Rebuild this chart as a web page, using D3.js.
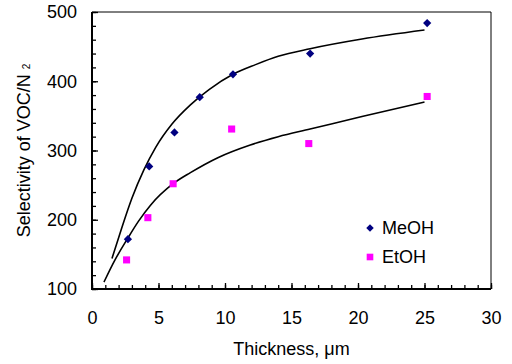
<!DOCTYPE html>
<html>
<head>
<meta charset="utf-8">
<script src="https://cdn.jsdelivr.net/npm/d3@7"></script>
<style>
    body { margin: 0; background: #fff; }
    svg text { font-family: "Liberation Sans", Arial, sans-serif; fill: #000; }
</style>
</head>
<body>
<div id="grafico"></div>
<script>
// measured points
const meohThickness = [2.7, 4.3, 6.2, 8.1, 10.6, 16.4, 25.2];
const meohSelectivity = [172, 277, 326, 377, 410, 440, 484];
const etohThickness = [2.6, 4.2, 6.1, 10.5, 16.3, 25.2];
const etohSelectivity = [142, 203, 252, 331, 310, 378];

// trend lines
const meohFitX = [1.5, 2.2, 3.0, 3.9, 4.8, 6.0, 7.4, 8.8, 10.6, 12.3, 14.0, 16.4, 20.3, 25.0];
const meohFitY = [144, 186, 231, 272, 305, 338, 366, 388, 410, 424, 436, 447, 461, 474];
const etohFitX = [0.9, 1.7, 2.65, 3.5, 4.4, 6.1, 7.4, 9.5, 11.9, 14.0, 16.4, 20.3, 25.0];
const etohFitY = [110, 141, 172, 198, 221, 252, 268, 290, 308, 320, 331, 349, 370];

const xTicks = [0, 5, 10, 15, 20, 25, 30];
const yTicks = [100, 200, 300, 400, 500];
const seriesNames = ["MeOH", "EtOH"];

const width = 512;
const height = 364;
const margin = { top: 12, right: 21, bottom: 75, left: 92 };

const x = d3.scaleLinear().domain([0, 30]).range([margin.left, width - margin.right]);
const y = d3.scaleLinear().domain([100, 500]).range([height - margin.bottom, margin.top]);

const svg = d3.select('#grafico')
    .append('svg')
    .attr('width', width)
    .attr('height', height);

// minor ticks
svg.append('g')
    .attr('transform', `translate(0, ${y(100)})`)
    .call(d3.axisBottom(x).tickValues(d3.range(0, 31, 1)).tickSize(-4).tickFormat(''))
    .call(g => g.select('.domain').remove());
svg.append('g')
    .attr('transform', `translate(${x(0)}, 0)`)
    .call(d3.axisLeft(y).tickValues(d3.range(100, 501, 20)).tickSize(-4).tickFormat(''))
    .call(g => g.select('.domain').remove());

// major ticks + labels
svg.append('g')
    .attr('transform', `translate(0, ${y(100)})`)
    .call(d3.axisBottom(x).tickValues(xTicks).tickSize(-6).tickPadding(22))
    .call(g => g.select('.domain').remove())
    .call(g => g.selectAll('text').attr('font-size', 18));
svg.append('g')
    .attr('transform', `translate(${x(0)}, 0)`)
    .call(d3.axisLeft(y).tickValues(yTicks).tickSize(-6).tickPadding(15))
    .call(g => g.select('.domain').remove())
    .call(g => g.selectAll('text').attr('font-size', 18));

svg.selectAll('.tick line').attr('stroke', '#000').attr('stroke-width', 1.3);

// frame
svg.append('path')
    .attr('d', `M${x(0)},${y(500)}H${x(30)}V${y(100)}`)
    .attr('fill', 'none')
    .attr('stroke', '#000')
    .attr('stroke-width', 1);
svg.append('path')
    .attr('d', `M${x(0)},${y(500)}V${y(100)}H${x(30)}`)
    .attr('fill', 'none')
    .attr('stroke', '#000')
    .attr('stroke-width', 2);

// trend lines
const line = d3.line()
    .x(d => x(d[0]))
    .y(d => y(d[1]))
    .curve(d3.curveMonotoneX);

svg.append('path')
    .datum(d3.zip(meohFitX, meohFitY))
    .attr('d', line)
    .attr('fill', 'none')
    .attr('stroke', '#000')
    .attr('stroke-width', 1.6);
svg.append('path')
    .datum(d3.zip(etohFitX, etohFitY))
    .attr('d', line)
    .attr('fill', 'none')
    .attr('stroke', '#000')
    .attr('stroke-width', 1.6);

// markers
const diamond = d3.symbol().type(d3.symbolSquare).size(34);
const square = d3.symbol().type(d3.symbolSquare).size(50);

svg.selectAll('.meoh')
    .data(d3.zip(meohThickness, meohSelectivity))
    .enter()
    .append('path')
    .attr('class', 'meoh')
    .attr('d', diamond)
    .attr('fill', '#000080')
    .attr('transform', d => `translate(${x(d[0])}, ${y(d[1])}) rotate(45)`);

svg.selectAll('.etoh')
    .data(d3.zip(etohThickness, etohSelectivity))
    .enter()
    .append('path')
    .attr('class', 'etoh')
    .attr('d', square)
    .attr('fill', '#ff00ff')
    .attr('transform', d => `translate(${x(d[0])}, ${y(d[1])})`);

// legend
const legend = svg.append('g').attr('transform', 'translate(370, 228)');
legend.append('path')
    .attr('d', d3.symbol().type(d3.symbolSquare).size(28))
    .attr('fill', '#000080')
    .attr('transform', 'translate(0, 0) rotate(45)');
legend.append('path')
    .attr('d', d3.symbol().type(d3.symbolSquare).size(44))
    .attr('fill', '#ff00ff')
    .attr('transform', 'translate(0, 29)');
legend.selectAll('text')
    .data(seriesNames)
    .enter()
    .append('text')
    .attr('x', 12)
    .attr('y', (d, i) => i * 29)
    .attr('dy', '0.36em')
    .attr('font-size', 18)
    .text(d => d);

// axis titles
svg.append('text')
    .attr('x', (x(0) + x(30)) / 2)
    .attr('y', 355)
    .attr('text-anchor', 'middle')
    .attr('font-size', 18)
    .text('Thickness, μm');

const yTitle = svg.append('text')
    .attr('transform', `translate(30, ${(y(100) + y(500)) / 2}) rotate(-90)`)
    .attr('text-anchor', 'middle')
    .attr('font-size', 18)
    .text('Selectivity of VOC/N ');
yTitle.append('tspan')
    .attr('font-size', 10)
    .text('2');
</script>
</body>
</html>
